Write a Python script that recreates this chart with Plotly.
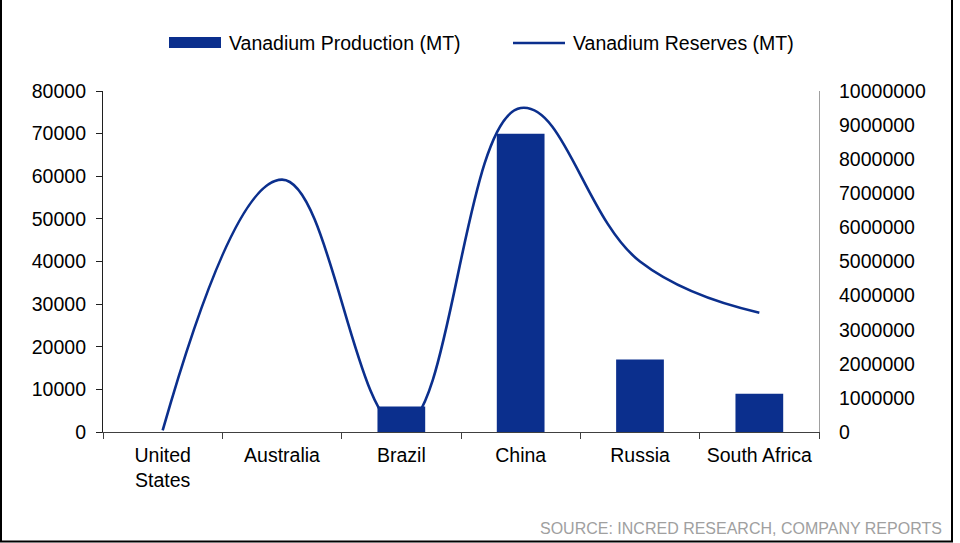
import plotly.graph_objects as go

# Data
countries = ["United<br>States", "Australia", "Brazil", "China", "Russia", "South Africa"]
production_mt = [0, 0, 6000, 70000, 17000, 9000]
reserves_mt = [45000, 7400000, 120000, 9500000, 5000000, 3500000]

NAVY = "#0b2f8d"
FONT = "Liberation Sans, Arial, sans-serif"
FS = 19.5

W, H = 960, 543
L, R, T, B = 103, 819, 91, 432  # plot area in pixels


def px_x(x):
    return (x - L) / (R - L)


def px_y(y):
    return (B - y) / (B - T)


fig = go.Figure()

# Reserves line (right axis) drawn first so the bars sit on top of it
fig.add_trace(go.Scatter(
    x=countries, y=reserves_mt, mode="lines",
    line=dict(color=NAVY, width=2.6, shape="spline", smoothing=1.2),
    yaxis="y", name="Vanadium Reserves (MT)", showlegend=False,
))

# Production bars (left axis)
fig.add_trace(go.Bar(
    x=countries, y=production_mt, marker=dict(color=NAVY, line=dict(width=0)),
    yaxis="y2", name="Vanadium Production (MT)", showlegend=False,
))

shapes = [
    # legend swatches
    dict(type="rect", xref="paper", yref="paper",
         x0=px_x(169), x1=px_x(221), y0=px_y(48), y1=px_y(37),
         fillcolor=NAVY, line=dict(width=0)),
    dict(type="line", xref="paper", yref="paper",
         x0=px_x(513), x1=px_x(565), y0=px_y(43), y1=px_y(43),
         line=dict(color=NAVY, width=2.6)),
    # outer frame
    dict(type="line", xref="paper", yref="paper",
         x0=px_x(1), x1=px_x(1), y0=px_y(0), y1=px_y(542),
         line=dict(color="black", width=2)),
    dict(type="line", xref="paper", yref="paper",
         x0=px_x(952), x1=px_x(952), y0=px_y(0), y1=px_y(542),
         line=dict(color="black", width=2)),
    dict(type="line", xref="paper", yref="paper",
         x0=px_x(0), x1=px_x(953), y0=px_y(541.5), y1=px_y(541.5),
         line=dict(color="black", width=2)),
]

annotations = [
    dict(text="Vanadium Production (MT)", xref="paper", yref="paper",
         x=px_x(227), y=px_y(43), xanchor="left", yanchor="middle",
         showarrow=False, font=dict(family=FONT, size=FS, color="black")),
    dict(text="Vanadium Reserves (MT)", xref="paper", yref="paper",
         x=px_x(571), y=px_y(43), xanchor="left", yanchor="middle",
         showarrow=False, font=dict(family=FONT, size=FS, color="black")),
    dict(text="SOURCE: INCRED RESEARCH, COMPANY REPORTS", xref="paper", yref="paper",
         x=px_x(944), y=px_y(528), xanchor="right", yanchor="middle",
         showarrow=False, font=dict(family=FONT, size=16, color="#a0a0a0")),
]

fig.update_layout(
    width=W, height=H, autosize=False,
    margin=dict(l=L, r=W - R, t=T, b=H - B, pad=0),
    paper_bgcolor="white", plot_bgcolor="white",
    font=dict(family=FONT, size=FS, color="black"),
    bargap=0.6,
    showlegend=False,
    xaxis=dict(
        type="category", showline=True, linecolor="#404040", linewidth=1.2,
        ticks="outside", tickson="boundaries", ticklen=6, tickcolor="#404040",
        showgrid=False, zeroline=False, ticklabelstandoff=5,
        tickfont=dict(family=FONT, size=FS, color="black"),
    ),
    yaxis=dict(
        side="right", range=[0, 10000000], dtick=1000000, tickformat="d",
        showline=True, linecolor="#a0a0a0", linewidth=1.2, ticks="",
        showgrid=False, zeroline=False, ticklabelstandoff=15,
        tickfont=dict(family=FONT, size=FS, color="black"),
    ),
    yaxis2=dict(
        overlaying="y", side="left", range=[0, 80000], dtick=10000, tickformat="d",
        showline=True, linecolor="#202020", linewidth=1.2,
        ticks="outside", ticklen=6, tickcolor="#202020",
        showgrid=False, zeroline=False, ticklabelstandoff=6,
        tickfont=dict(family=FONT, size=FS, color="black"),
    ),
    shapes=shapes,
    annotations=annotations,
)

fig.write_html("out.html")
